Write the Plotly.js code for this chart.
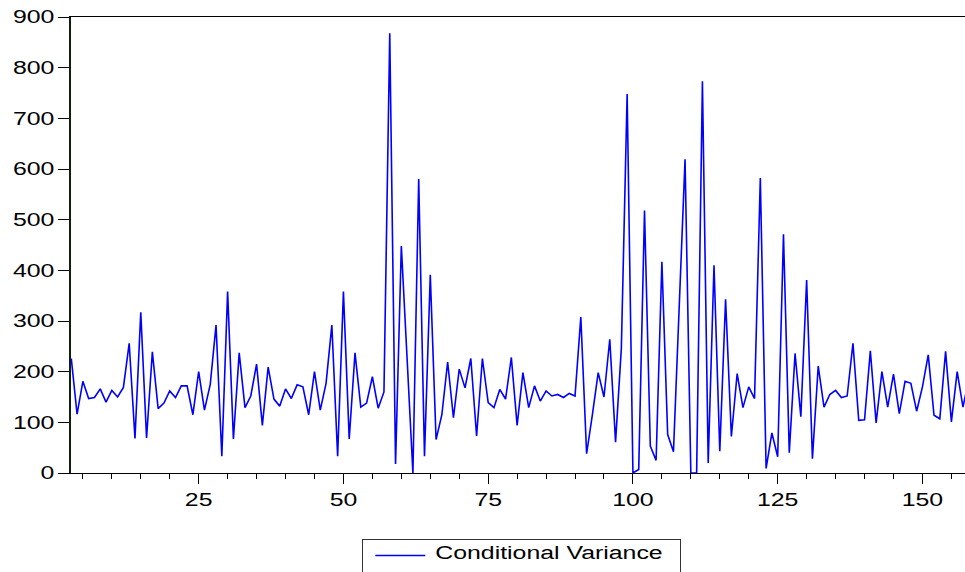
<!DOCTYPE html>
<html>
<head>
<meta charset="utf-8">
<script src="https://cdn.plot.ly/plotly-3.0.1.min.js"></script>
<style>
html,body{margin:0;padding:0;background:#fff;}
#chart{width:965px;height:572px;}
</style>
</head>
<body>
<div id="chart"></div>
<script>
// Observation numbers start at 3 (first two lost to lags)
const firstObs = 3;
const seriesName = "Conditional Variance";
const conditionalVariance = [
  226,116,181,147,149,166,140,163,150,169,   // 3-12
  256,68,317,69,239,127,138,162,149,172,     // 13-22
  172,115,200,124,175,292,33,358,67,237,     // 23-32
  129,152,215,94,209,146,132,166,147,174,    // 33-42
  170,115,200,124,177,292,33,358,67,237,     // 43-52
  130,138,190,128,160,868,18,448,225,0,      // 53-62
  580,33,391,66,115,219,109,205,168,226,     // 63-72
  73,226,139,129,165,146,228,94,198,129,     // 73-82
  172,142,162,152,155,149,157,152,308,38,    // 83-92
  115,198,150,264,61,246,748,0,7,518,        // 93-102
  53,25,417,76,42,330,619,0,0,773,           // 103-112
  20,410,43,343,72,196,129,170,147,582,      // 113-122
  9,79,32,471,40,236,111,381,28,211,         // 123-132
  130,155,163,149,152,256,104,105,241,99,    // 133-142
  200,130,195,117,181,177,122,170,233,114,   // 143-152
  107,240,101,200,130,185                    // 153-158
];
const yTickVals = [0,100,200,300,400,500,600,700,800,900];
const xTickVals = [25,50,75,100,125,150];

const fontFamily = "Liberation Sans, Arial, Helvetica, sans-serif";
const fontSize = 18;
const stretchFactor = 1.38;

const trace = {
  type: "scatter",
  mode: "lines",
  name: seriesName,
  x0: firstObs,
  dx: 1,
  y: conditionalVariance,
  line: {color: "#0000ff", width: 1.6},
  showlegend: true,
  cliponaxis: true
};

const layout = {
  width: 965,
  height: 572,
  margin: {l: 71, r: 0, t: 17, b: 99, autoexpand: false},
  paper_bgcolor: "#ffffff",
  plot_bgcolor: "#ffffff",
  font: {family: fontFamily, size: fontSize, color: "#000"},
  showlegend: true,
  xaxis: {
    range: [2.95, 157.35],
    tickmode: "array",
    tickvals: xTickVals,
    ticktext: xTickVals.map(String),
    ticks: "outside",
    ticklen: 10,
    tickwidth: 1,
    tickcolor: "#000",
    minor: {dtick: 5, tick0: 0, ticks: "outside", ticklen: 5, tickwidth: 1, tickcolor: "#000", showgrid: false},
    showgrid: false,
    zeroline: false,
    showline: true,
    linecolor: "#000",
    linewidth: 1.2,
    mirror: true,
    tickfont: {family: fontFamily, size: fontSize, color: "#000"}
  },
  yaxis: {
    range: [0, 900],
    tickmode: "array",
    tickvals: yTickVals,
    ticktext: yTickVals.map(String),
    ticks: "outside",
    ticklen: 11,
    tickwidth: 1,
    tickcolor: "#000",
    showgrid: false,
    zeroline: false,
    showline: true,
    linecolor: "#102010",
    linewidth: 2,
    mirror: false,
    tickfont: {family: fontFamily, size: fontSize, color: "#000"}
  },
  legend: {
    orientation: "h",
    x: 0.504,
    xanchor: "center",
    y: -0.145,
    yanchor: "top",
    itemwidth: 50,
    entrywidth: 251,
    bordercolor: "#333",
    borderwidth: 1.2,
    bgcolor: "#fff",
    font: {family: fontFamily, size: fontSize, color: "#000"}
  }
};

function stretchText(gd) {
  gd.querySelectorAll(".xtick text, .ytick text, .legendtext").forEach(t => {
    if (t.getAttribute("data-st")) return;
    const w = t.getComputedTextLength();
    t.setAttribute("textLength", (w * stretchFactor).toFixed(1));
    t.setAttribute("lengthAdjust", "spacingAndGlyphs");
    t.setAttribute("data-st", "1");
  });
  gd.querySelectorAll(".legendtext").forEach(t => {
    const x = parseFloat(t.getAttribute("x") || "0");
    const y = parseFloat(t.getAttribute("y") || "0");
    t.setAttribute("x", x + 12);
    t.setAttribute("y", y - 7);
  });
  gd.querySelectorAll(".legendlines path").forEach(p => {
    p.setAttribute("d", "M12,-3h50");
  });
}

Plotly.newPlot("chart", [trace], layout, {displayModeBar: false, staticPlot: true})
  .then(gd => stretchText(gd));
</script>
</body>
</html>
